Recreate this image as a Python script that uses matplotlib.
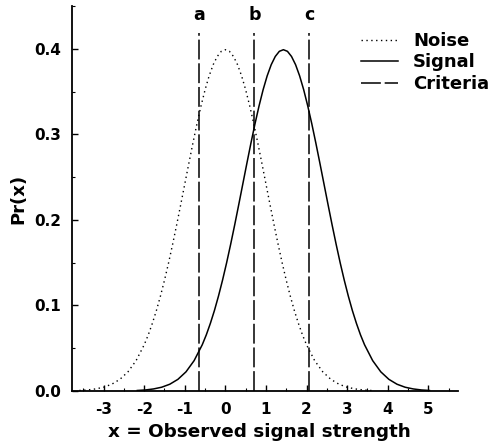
import matplotlib
matplotlib.use("Agg")
import matplotlib.pyplot as plt
from matplotlib.ticker import MultipleLocator, FormatStrFormatter

plt.rcParams['font.family'] = ['DejaVu Sans']
plt.rcParams['font.weight'] = 'bold'
plt.rcParams['axes.unicode_minus'] = False

# Noise distribution
noise_x = [-3.6, -3.4, -3.2, -3.0, -2.8, -2.6, -2.4, -2.2, -2.0, -1.9, -1.8, -1.7, -1.6,
           -1.5, -1.4, -1.3, -1.2, -1.1, -1.0, -0.9, -0.8, -0.7, -0.6, -0.5, -0.4, -0.3,
           -0.2, -0.1, 0.0, 0.1, 0.2, 0.3, 0.4, 0.5, 0.6, 0.7, 0.8, 0.9, 1.0, 1.1, 1.2,
           1.3, 1.4, 1.5, 1.6, 1.7, 1.8, 1.9, 2.0, 2.2, 2.4, 2.6, 2.8, 3.0, 3.2, 3.4, 3.6]
noise_y = [0.0006, 0.0012, 0.0024, 0.0044, 0.0079, 0.0136, 0.0224, 0.0355, 0.0540, 0.0656,
           0.0790, 0.0940, 0.1109, 0.1295, 0.1497, 0.1714, 0.1942, 0.2179, 0.2420, 0.2661,
           0.2897, 0.3123, 0.3332, 0.3521, 0.3683, 0.3814, 0.3910, 0.3970, 0.3989, 0.3970,
           0.3910, 0.3814, 0.3683, 0.3521, 0.3332, 0.3123, 0.2897, 0.2661, 0.2420, 0.2179,
           0.1942, 0.1714, 0.1497, 0.1295, 0.1109, 0.0940, 0.0790, 0.0656, 0.0540, 0.0355,
           0.0224, 0.0136, 0.0079, 0.0044, 0.0024, 0.0012, 0.0006]

# Signal distribution
signal_x = [-2.17, -1.97, -1.77, -1.57, -1.37, -1.17, -0.97, -0.77, -0.57, -0.47, -0.37,
            -0.27, -0.17, -0.07, 0.03, 0.13, 0.23, 0.33, 0.43, 0.53, 0.63, 0.73, 0.83,
            0.93, 1.03, 1.13, 1.23, 1.33, 1.43, 1.53, 1.63, 1.73, 1.83, 1.93, 2.03, 2.13,
            2.23, 2.33, 2.43, 2.53, 2.63, 2.73, 2.83, 2.93, 3.03, 3.13, 3.23, 3.33, 3.43,
            3.63, 3.83, 4.03, 4.23, 4.43, 4.63, 4.83, 5.03]
signal_y = [0.0006, 0.0012, 0.0024, 0.0044, 0.0079, 0.0136, 0.0224, 0.0355, 0.0540, 0.0656,
            0.0790, 0.0940, 0.1109, 0.1295, 0.1497, 0.1714, 0.1942, 0.2179, 0.2420, 0.2661,
            0.2897, 0.3123, 0.3332, 0.3521, 0.3683, 0.3814, 0.3910, 0.3970, 0.3989, 0.3970,
            0.3910, 0.3814, 0.3683, 0.3521, 0.3332, 0.3123, 0.2897, 0.2661, 0.2420, 0.2179,
            0.1942, 0.1714, 0.1497, 0.1295, 0.1109, 0.0940, 0.0790, 0.0656, 0.0540, 0.0355,
            0.0224, 0.0136, 0.0079, 0.0044, 0.0024, 0.0012, 0.0006]

# Criteria
criteria_x = [-0.64, 0.715, 2.07]
criteria_labels = ['a', 'b', 'c']
criteria_top = 0.418
label_y = 0.439

legend_labels = ['Noise', 'Signal', 'Criteria']
x_ticks = [-3, -2, -1, 0, 1, 2, 3, 4, 5]
y_ticks = [0.0, 0.1, 0.2, 0.3, 0.4]

fig = plt.figure(figsize=(4.93, 4.43), dpi=100)
ax = fig.add_axes([0.146, 0.1174, 0.7836, 0.8691])

ln_noise, = ax.plot(noise_x, noise_y, color='black', lw=1.0, linestyle=(0, (1, 2.5)))
ln_signal, = ax.plot(signal_x, signal_y, color='black', lw=1.1, linestyle='-')
ln_crit = None
for cx, lab in zip(criteria_x, criteria_labels):
    ln_crit, = ax.plot([cx, cx], [0, criteria_top], color='black', lw=1.1,
                       linestyle=(0, (13, 2.5)))
    ax.text(cx, label_y, lab, ha='center', va='center', fontsize=12.5, fontweight='bold')

ax.set_xlim(-3.78, 5.74)
ax.set_ylim(0, 0.45)
ax.spines['top'].set_visible(False)
ax.spines['right'].set_visible(False)
ax.spines['left'].set_linewidth(1.3)
ax.spines['bottom'].set_linewidth(1.3)

ax.set_xticks(x_ticks)
ax.set_yticks(y_ticks)
ax.xaxis.set_minor_locator(MultipleLocator(0.5))
ax.yaxis.set_minor_locator(MultipleLocator(0.05))
ax.yaxis.set_major_formatter(FormatStrFormatter('%.1f'))
ax.tick_params(which='major', direction='in', length=4, width=1, labelsize=11, pad=8)
ax.tick_params(which='minor', direction='in', length=2, width=0.8)
for t in ax.get_xticklabels() + ax.get_yticklabels():
    t.set_fontweight('bold')

ax.set_xlabel('x = Observed signal strength', fontsize=13.2, fontweight='bold', labelpad=4)
ax.xaxis.label.set_x(0.485)
ax.set_ylabel('Pr(x)', fontsize=13, fontweight='bold', labelpad=5)

ax.legend([ln_noise, ln_signal, ln_crit], legend_labels, frameon=False,
          loc='upper left', bbox_to_anchor=(0.705, 0.975),
          handlelength=2.1, handletextpad=0.8, labelspacing=0.2,
          prop={'weight': 'bold', 'size': 13})

fig.savefig('out.png', dpi=100)
